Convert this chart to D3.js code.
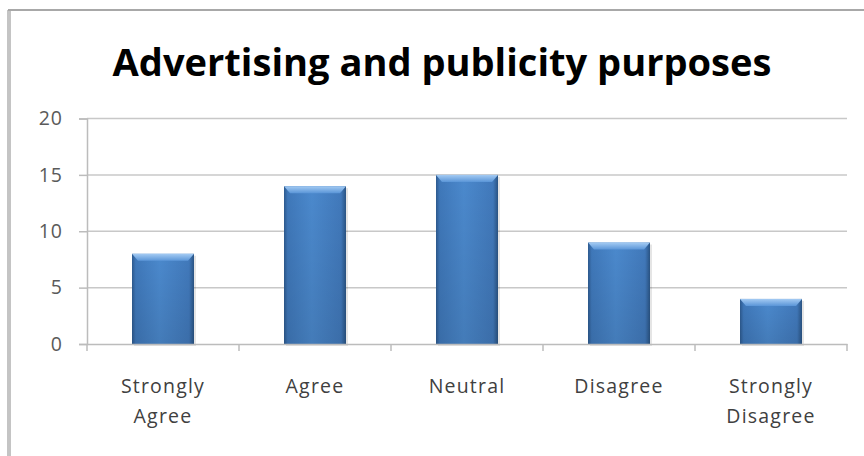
<!DOCTYPE html>
<html>
<head>
<meta charset="utf-8">
<script src="https://cdn.jsdelivr.net/npm/d3@7"></script>
<style>
  html, body { margin: 0; padding: 0; background: #fff; }
  svg { display: block; }
</style>
</head>
<body>
<svg id="chart"></svg>
<script>
const categories = ["Strongly Agree", "Agree", "Neutral", "Disagree", "Strongly Disagree"];
const labelLines = [["Strongly", "Agree"], ["Agree"], ["Neutral"], ["Disagree"], ["Strongly", "Disagree"]];
const values = [8, 14, 15, 9, 4];
const yTicks = [0, 5, 10, 15, 20];
const title = "Advertising and publicity purposes";

const W = 864, H = 456;
const margin = { top: 118.5, right: 17, bottom: 112, left: 87 };
const width = W - margin.left - margin.right;
const height = H - margin.top - margin.bottom;

const svg = d3.select("#chart").attr("width", W).attr("height", H);

const defs = svg.append("defs");
const grad = defs.append("linearGradient").attr("id", "barGrad")
  .attr("x1", 0).attr("x2", 1).attr("y1", 0).attr("y2", 0);
grad.append("stop").attr("offset", "0%").attr("stop-color", "#2d5a8f");
grad.append("stop").attr("offset", "6%").attr("stop-color", "#3f78ba");
grad.append("stop").attr("offset", "45%").attr("stop-color", "#4b89cd");
grad.append("stop").attr("offset", "92%").attr("stop-color", "#4179bb");
grad.append("stop").attr("offset", "100%").attr("stop-color", "#2a5484");
const vgrad = defs.append("linearGradient").attr("id", "barShade")
  .attr("x1", 0).attr("x2", 0).attr("y1", 0).attr("y2", 1);
vgrad.append("stop").attr("offset", "0%").attr("stop-color", "#000").attr("stop-opacity", 0);
vgrad.append("stop").attr("offset", "100%").attr("stop-color", "#000").attr("stop-opacity", 0.1);
const topGrad = defs.append("linearGradient").attr("id", "topGrad")
  .attr("x1", 0).attr("x2", 0).attr("y1", 0).attr("y2", 1);
topGrad.append("stop").attr("offset", "0%").attr("stop-color", "#a4cbf3");
topGrad.append("stop").attr("offset", "100%").attr("stop-color", "#5b96d8");

// outer frame
svg.append("line").attr("x1", 9).attr("x2", 9).attr("y1", 10).attr("y2", H)
  .attr("stroke", "#c4c4c4").attr("stroke-width", 4);
svg.append("line").attr("x1", 8).attr("x2", W).attr("y1", 10).attr("y2", 10)
  .attr("stroke", "#a8a8a8").attr("stroke-width", 2);

// title
const t = svg.append("text")
  .attr("x", 442).attr("y", 76)
  .attr("text-anchor", "middle")
  .attr("font-family", "Open Sans, Noto Sans, sans-serif")
  .attr("font-weight", "bold")
  .attr("font-size", 40)
  .attr("fill", "#000")
  .text(title);
const tw = t.node().getComputedTextLength();
t.attr("font-size", 40 * 659 / tw);

const g = svg.append("g").attr("transform", `translate(${margin.left},${margin.top})`);

const x = d3.scaleBand().domain(categories).range([0, width]).padding(0);
const y = d3.scaleLinear().domain([0, 20]).range([height, 0]);

// gridlines
g.selectAll(".grid").data(yTicks.filter(d => d > 0)).enter().append("line")
  .attr("x1", 0).attr("x2", width)
  .attr("y1", d => y(d)).attr("y2", d => y(d))
  .attr("stroke", "#c8c8c8").attr("stroke-width", 1.5);

// y axis
const yAxis = g.append("g").call(d3.axisLeft(y).tickValues(yTicks).tickSize(8).tickPadding(16));
yAxis.select(".domain").attr("stroke", "#bcbcbc").attr("stroke-width", 1.5);
yAxis.selectAll(".tick line").attr("stroke", "#bcbcbc").attr("stroke-width", 1.5);
yAxis.selectAll(".tick text")
  .attr("font-family", "Open Sans, Noto Sans, sans-serif")
  .attr("font-size", 19.5).attr("letter-spacing", 1).attr("fill", "#5a5a5a");

// bars
const bw = 62;
const bars = g.selectAll(".bar").data(values).enter().append("g").attr("class", "bar");
bars.append("rect")
  .attr("x", (d, i) => x(categories[i]) + x.bandwidth() / 2 - bw / 2 + 2)
  .attr("y", d => y(d) + 2)
  .attr("width", bw).attr("height", d => height - y(d))
  .attr("fill", "#000").attr("opacity", 0.1);
bars.append("rect")
  .attr("x", (d, i) => x(categories[i]) + x.bandwidth() / 2 - bw / 2)
  .attr("y", d => y(d))
  .attr("width", bw).attr("height", d => height - y(d))
  .attr("fill", "url(#barGrad)");
bars.append("rect")
  .attr("x", (d, i) => x(categories[i]) + x.bandwidth() / 2 - bw / 2)
  .attr("y", d => y(d))
  .attr("width", bw).attr("height", d => height - y(d))
  .attr("fill", "url(#barShade)");
// top bevel
bars.append("path")
  .attr("d", (d, i) => {
    const x0 = x(categories[i]) + x.bandwidth() / 2 - bw / 2, y0 = y(d);
    return `M${x0},${y0}L${x0 + bw},${y0}L${x0 + bw - 6},${y0 + 7}L${x0 + 6},${y0 + 7}Z`;
  })
  .attr("fill", "url(#topGrad)");

// x axis
const xAxis = g.append("g").attr("transform", `translate(0,${height})`)
  .call(d3.axisBottom(x).tickSize(0).tickFormat(""));
xAxis.select(".domain").attr("stroke", "#bcbcbc").attr("stroke-width", 1.5);
g.append("g").selectAll("line").data(d3.range(categories.length + 1)).enter().append("line")
  .attr("x1", i => i * x.step()).attr("x2", i => i * x.step())
  .attr("y1", height).attr("y2", height + 7)
  .attr("stroke", "#bcbcbc").attr("stroke-width", 1.5);

const labels = g.append("g").selectAll("text").data(categories).enter().append("text")
  .attr("x", d => x(d) + x.bandwidth() / 2)
  .attr("y", height + 49)
  .attr("text-anchor", "middle")
  .attr("font-family", "Open Sans, Noto Sans, sans-serif")
  .attr("font-size", 19.5).attr("letter-spacing", 1.2).attr("fill", "#404040");
labels.each(function (d, i) {
  d3.select(this).selectAll("tspan").data(labelLines[i]).enter().append("tspan")
    .attr("x", x(d) + x.bandwidth() / 2)
    .attr("dy", (l, j) => j === 0 ? 0 : 30)
    .text(l => l);
});
</script>
</body>
</html>
